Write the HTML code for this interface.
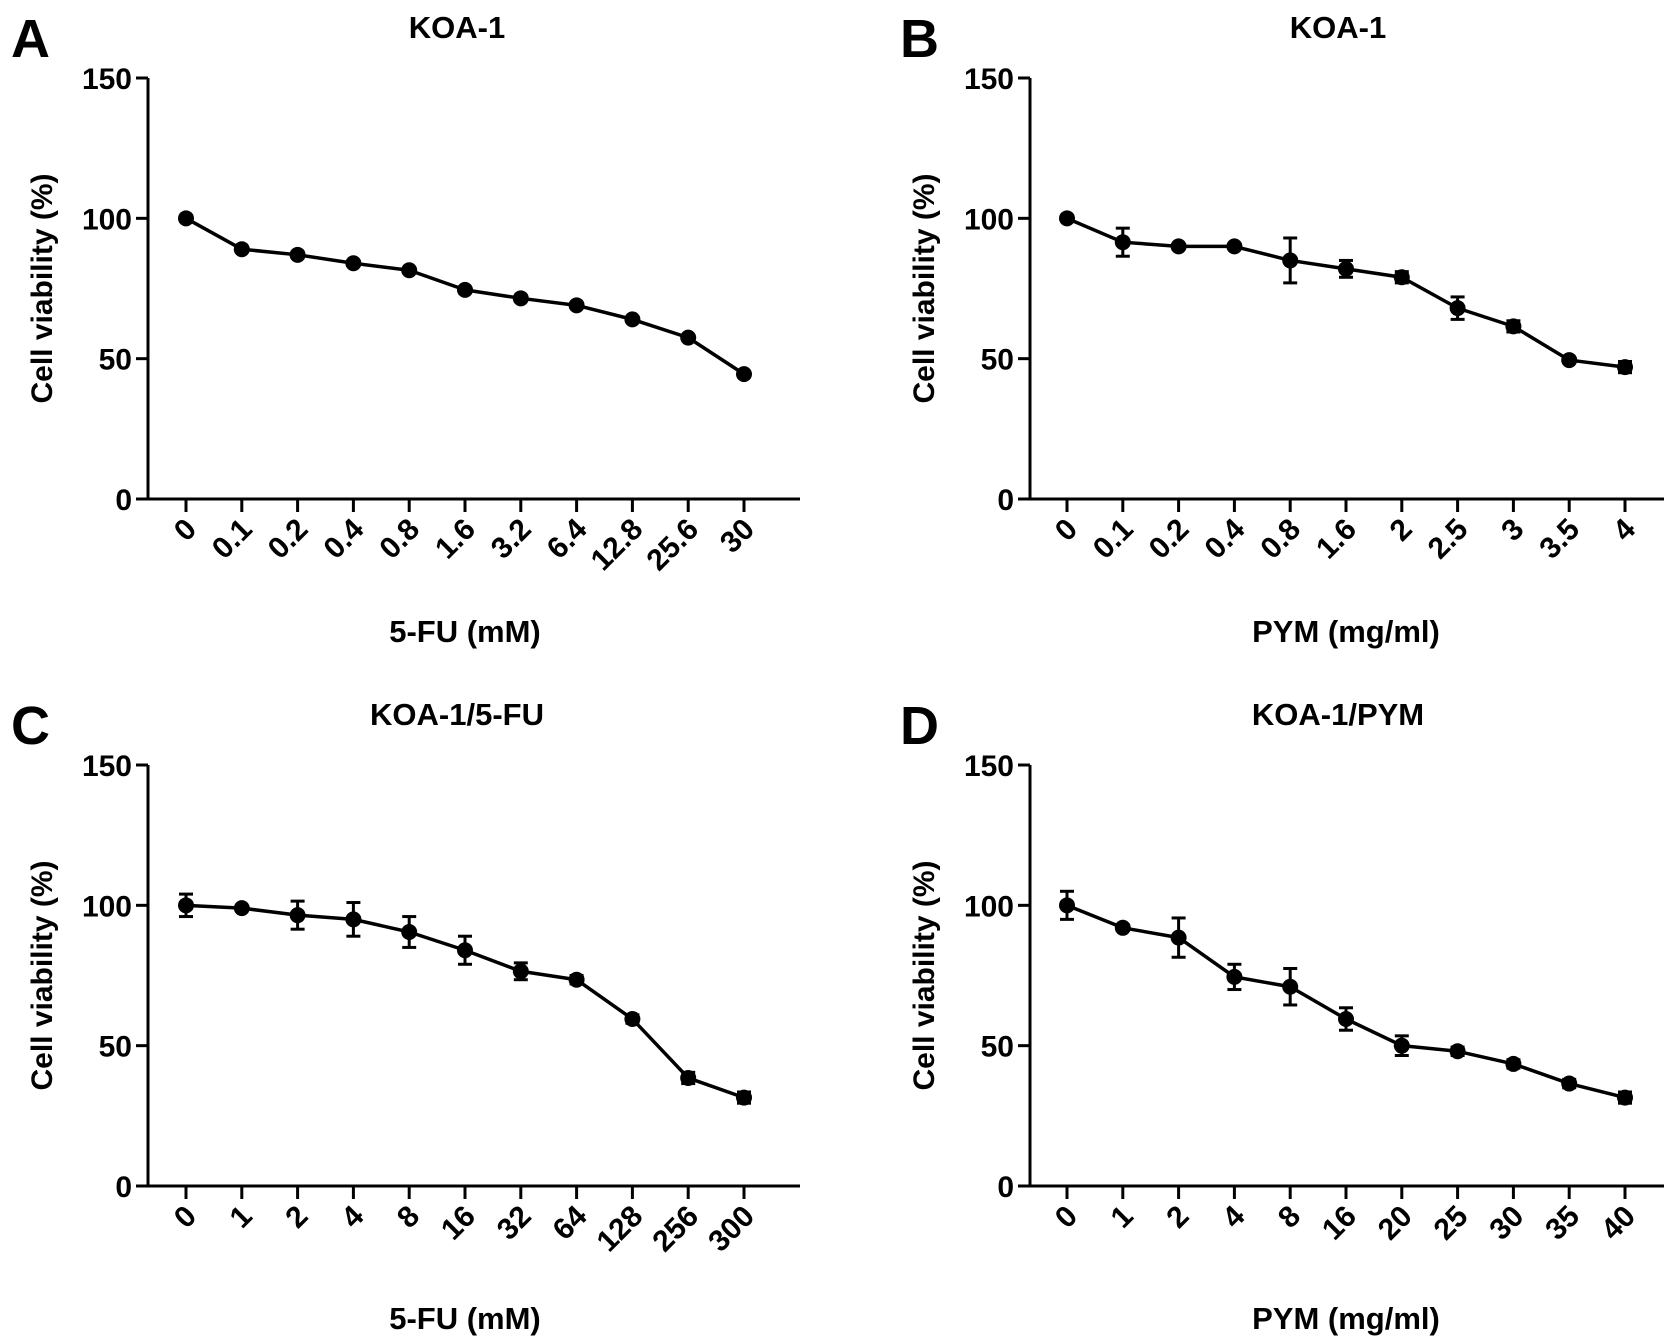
<!DOCTYPE html>
<html><head><meta charset="utf-8"><style>
html,body{margin:0;padding:0;background:#fff;}
svg{display:block;font-family:"Liberation Sans",Arial,sans-serif;font-weight:bold;}
</style></head><body>
<svg id="fig" width="1677" height="1342" viewBox="0 0 1677 1342" xmlns="http://www.w3.org/2000/svg"></svg>
<script>
const catsA = ["0","0.1","0.2","0.4","0.8","1.6","3.2","6.4","12.8","25.6","30"];
const valsA = [100,89,87,84,81.5,74.5,71.5,69,64,57.5,44.5];
const errA  = [0,0,0,0,0,0,0,0,0,0,0];
const catsB = ["0","0.1","0.2","0.4","0.8","1.6","2","2.5","3","3.5","4"];
const valsB = [100,91.5,90,90,85,82,79,68,61.5,49.5,47];
const errB  = [0,5,0,0,8,3,2,4,2,0,2];
const catsC = ["0","1","2","4","8","16","32","64","128","256","300"];
const valsC = [100,99,96.5,95,90.5,84,76.5,73.5,59.5,38.5,31.5];
const errC  = [4,0,5,6,5.5,5,3,1.5,1.5,2,2];
const catsD = ["0","1","2","4","8","16","20","25","30","35","40"];
const valsD = [100,92,88.5,74.5,71,59.5,50,48,43.5,36.5,31.5];
const errD  = [5,1,7,4.5,6.5,4,3.5,1.5,1.5,1.5,2];
const yTicks = [0,50,100,150];

const NS="http://www.w3.org/2000/svg";
const svg=document.getElementById('fig');
function mk(tag,attrs,parent){const e=document.createElementNS(NS,tag);for(const k in attrs)e.setAttribute(k,attrs[k]);(parent||svg).appendChild(e);return e;}

const panels=[
 {letter:"A",title:"KOA-1",xlabel:"5-FU (mM)",cats:catsA,vals:valsA,err:errA,ox:148,top:78,bottom:499,x0:186,x1:744,xend:800,lx:11,ly:57},
 {letter:"B",title:"KOA-1",xlabel:"PYM (mg/ml)",cats:catsB,vals:valsB,err:errB,ox:1030,top:78,bottom:499,x0:1067,x1:1625,xend:1664,lx:900,ly:57},
 {letter:"C",title:"KOA-1/5-FU",xlabel:"5-FU (mM)",cats:catsC,vals:valsC,err:errC,ox:148,top:765,bottom:1186,x0:186,x1:744,xend:800,lx:11,ly:744},
 {letter:"D",title:"KOA-1/PYM",xlabel:"PYM (mg/ml)",cats:catsD,vals:valsD,err:errD,ox:1030,top:765,bottom:1186,x0:1067,x1:1625,xend:1664,lx:900,ly:744}
];

panels.forEach((p,pi)=>{
  const g=mk('g',{});
  
  
  const ys=v=>p.bottom-(v/150)*(p.bottom-p.top);
  const xs=i=>p.x0+i*(p.x1-p.x0)/(p.cats.length-1);
  const cx=(p.x0+p.x1)/2;
  let t=mk('text',{x:p.lx,y:p.ly,'font-size':54},g);t.textContent=p.letter;
  
  
  t=mk('text',{x:cx-8,y:p.top-40,'font-size':31,'text-anchor':'middle'},g);t.textContent=p.title;
  
  
  let a=mk('line',{x1:p.ox,y1:p.top,x2:p.ox,y2:p.bottom+1.5,stroke:'#000','stroke-width':3},g);
  
  
  a=mk('line',{x1:p.ox-12,y1:p.bottom,x2:p.xend,y2:p.bottom,stroke:'#000','stroke-width':3},g);
  
  
  yTicks.forEach(v=>{
    const y=ys(v);
    mk('line',{x1:p.ox-12,y1:y,x2:p.ox,y2:y,stroke:'#000','stroke-width':3},g);
    const tt=mk('text',{x:p.ox-16,y:y+11,'font-size':30,'text-anchor':'end'},g);tt.textContent=v;
    
    
  });
  p.cats.forEach((c,i)=>{
    const x=xs(i);
    mk('line',{x1:x,y1:p.bottom,x2:x,y2:p.bottom+13,stroke:'#000','stroke-width':3},g);
    const tt=mk('text',{x:0,y:0,'font-size':30,'text-anchor':'end',transform:`translate(${x+12},${p.bottom+32}) rotate(-45)`},g);tt.textContent=c;
    
    
  });
  t=mk('text',{x:cx,y:p.bottom+143,'font-size':31,'text-anchor':'middle'},g);t.textContent=p.xlabel;
  
  
  const ymid=(p.top+p.bottom)/2;
  t=mk('text',{x:0,y:0,'font-size':30,'text-anchor':'middle',transform:`translate(${p.ox-96},${ymid}) rotate(-90)`},g);t.textContent="Cell viability (%)";
  
  
  const pts=p.vals.map((v,i)=>xs(i)+','+ys(v)).join(' ');
  const pl=mk('polyline',{points:pts,fill:'none',stroke:'#000','stroke-width':3.5,'stroke-linejoin':'round'},g);
  
  
  p.vals.forEach((v,i)=>{
    const x=xs(i),y=ys(v),e=p.err[i];
    if(e>0){
      const eb=mk('g',{},g);
      
      
      mk('line',{x1:x,y1:ys(v+e),x2:x,y2:ys(v-e),stroke:'#000','stroke-width':3},eb);
      mk('line',{x1:x-7,y1:ys(v+e),x2:x+7,y2:ys(v+e),stroke:'#000','stroke-width':3},eb);
      mk('line',{x1:x-7,y1:ys(v-e),x2:x+7,y2:ys(v-e),stroke:'#000','stroke-width':3},eb);
    }
    const c=mk('circle',{cx:x,cy:y,r:8,fill:'#000'},g);
    
    
  });
});
</script>
</body></html>
